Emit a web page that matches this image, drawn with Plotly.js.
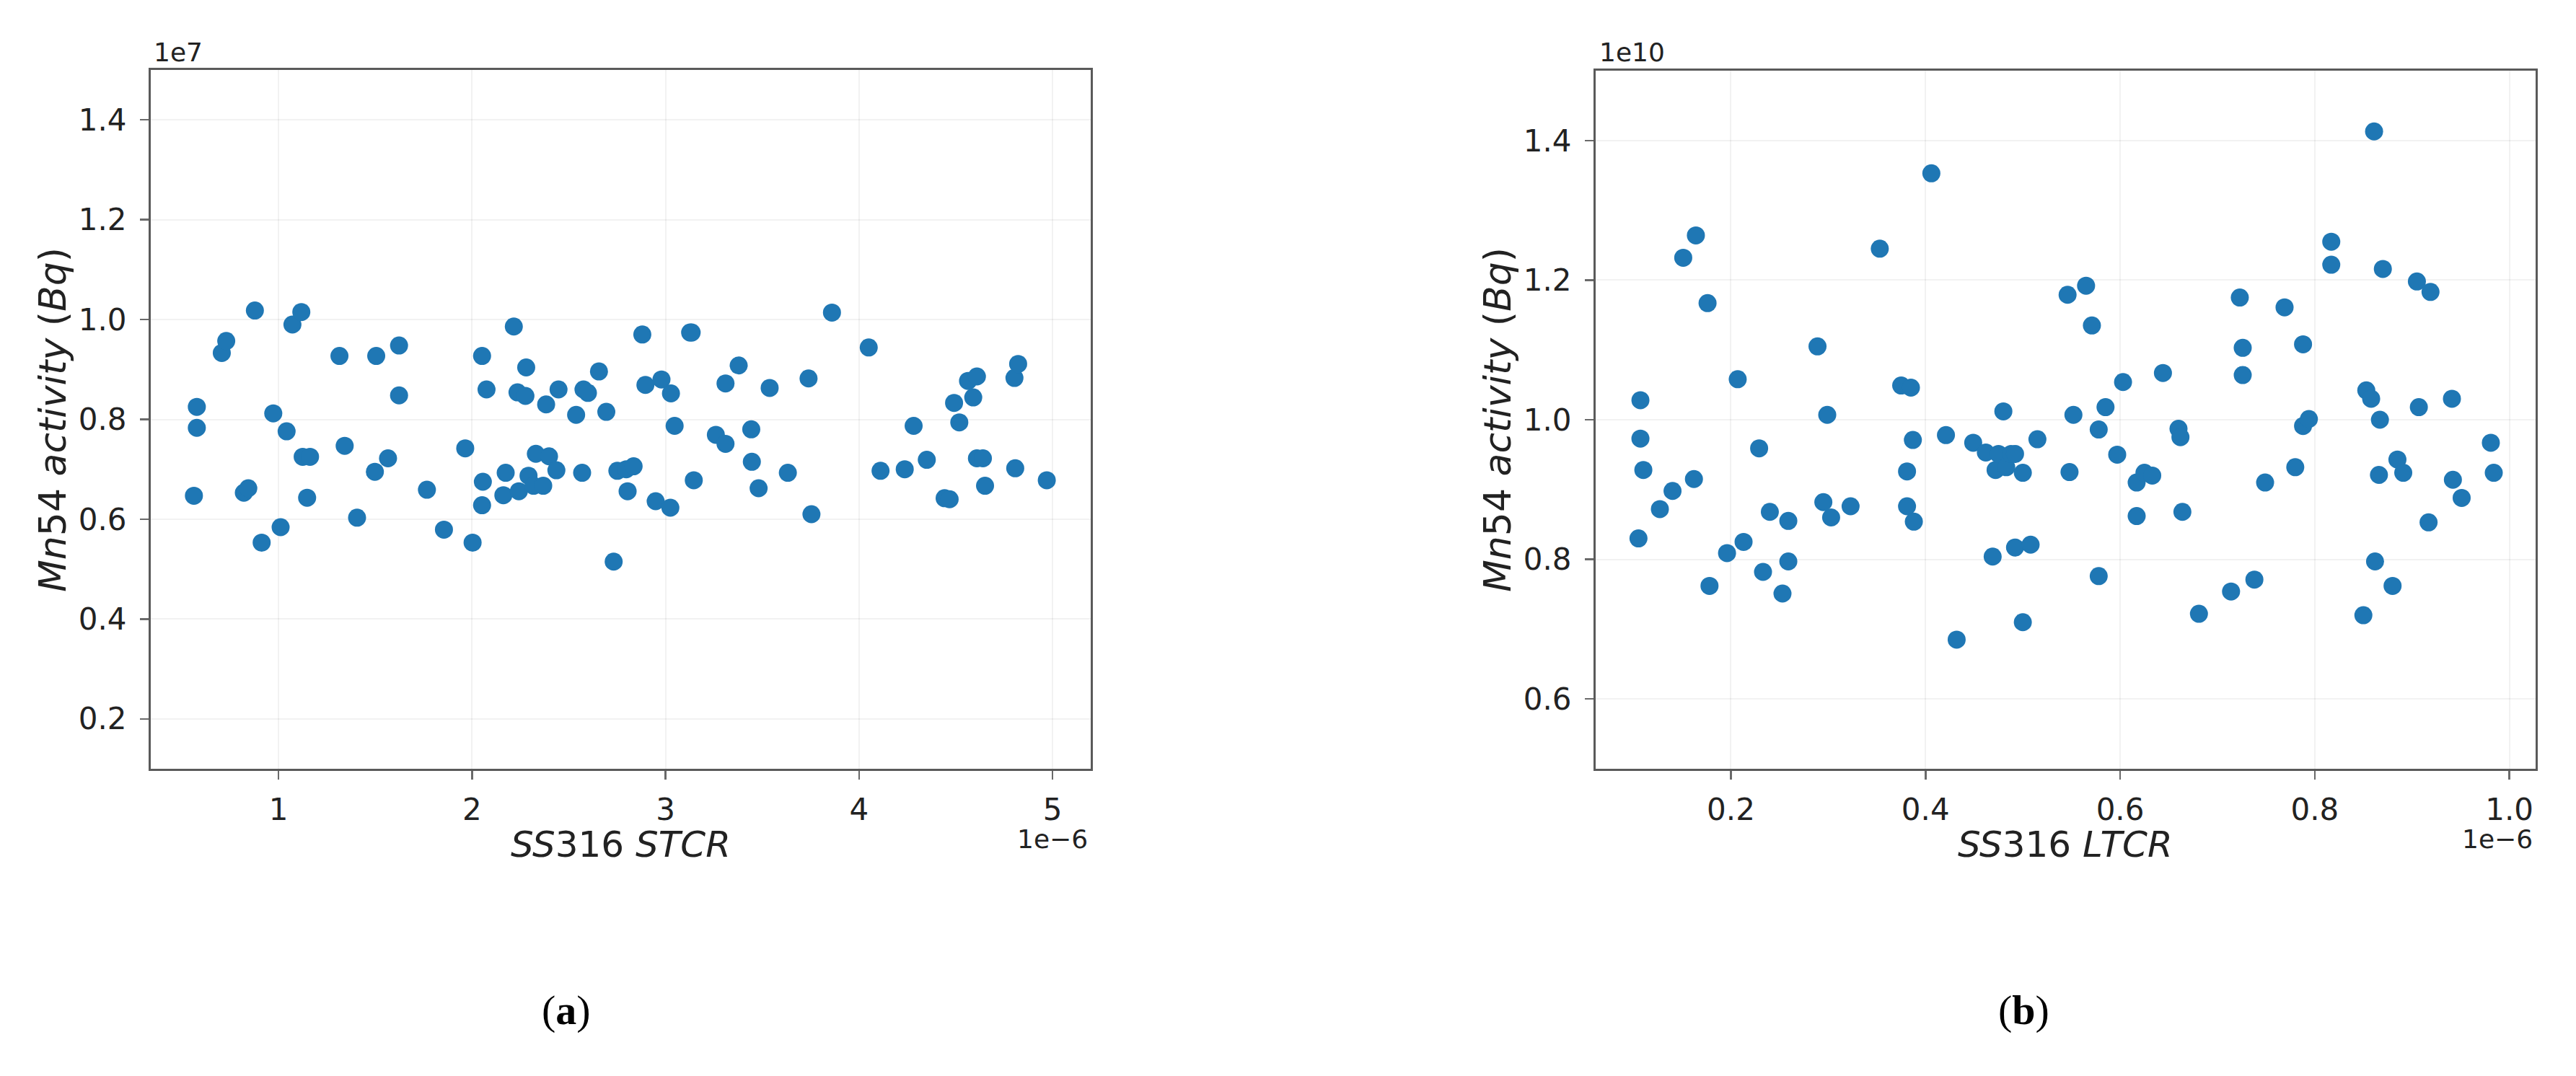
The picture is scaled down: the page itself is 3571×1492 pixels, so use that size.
<!DOCTYPE html>
<html>
<head>
<meta charset="utf-8">
<script src="https://cdn.plot.ly/plotly-3.0.1.min.js"></script>
<style>html,body{margin:0;padding:0;background:#fff;}#chart{width:3571px;height:1492px;}</style>
</head>
<body>
<div id="chart"></div>
<script>
// Panel (a): SS316 STCR (x, units of 1e-6) vs Mn54 activity (y, units of 1e7 Bq)
const stcrX = [0.563,0.578,0.578,0.707,0.730,0.821,0.844,0.878,0.913,0.973,1.011,1.042,1.072,1.118,1.125,1.163,1.148,1.315,1.342,1.406,
  1.498,1.505,1.566,1.623,1.623,1.767,1.855,1.965,2.003,2.052,2.056,2.052,2.075,2.174,2.162,2.216,2.235,2.242,2.276,2.280,
  2.292,2.318,2.330,2.368,2.383,2.398,2.436,2.447,2.538,2.569,2.576,2.599,2.656,2.694,2.732,2.751,2.797,2.835,2.804,2.880,
  2.896,2.949,2.979,3.025,3.028,3.047,3.127,3.146,3.260,3.310,3.310,3.378,3.443,3.446,3.481,3.538,3.632,3.739,3.754,3.860,
  4.050,4.111,4.236,4.282,4.350,4.442,4.468,4.491,4.518,4.563,4.590,4.609,4.609,4.640,4.651,4.803,4.822,4.807,4.970,3.135];
const stcrY = [0.647,0.825,0.783,0.933,0.957,0.653,0.662,1.018,0.553,0.812,0.584,0.776,0.990,1.015,0.725,0.725,0.643,0.927,0.747,0.603,
  0.695,0.927,0.722,0.948,0.848,0.659,0.579,0.742,0.553,0.927,0.675,0.628,0.860,0.693,0.648,0.986,0.854,0.656,0.847,0.904,
  0.687,0.667,0.731,0.667,0.830,0.726,0.698,0.860,0.809,0.693,0.860,0.853,0.896,0.815,0.515,0.697,0.700,0.706,0.656,0.970,
  0.869,0.636,0.880,0.623,0.852,0.787,0.974,0.678,0.769,0.751,0.872,0.908,0.780,0.715,0.662,0.863,0.693,0.882,0.610,1.014,
  0.944,0.697,0.700,0.787,0.719,0.642,0.640,0.833,0.794,0.877,0.844,0.886,0.722,0.722,0.667,0.883,0.911,0.702,0.678,0.974];

// Panel (b): SS316 LTCR (x, units of 1e-6) vs Mn54 activity (y, units of 1e10 Bq)
const ltcrX = [0.105,0.107,0.107,0.110,0.127,0.140,0.151,0.164,0.162,0.176,0.178,0.196,0.207,0.213,0.229,0.233,0.240,0.253,0.259,0.259,
  0.289,0.295,0.299,0.303,0.323,0.353,0.375,0.385,0.381,0.381,0.387,0.388,0.406,0.421,0.432,0.449,0.462,0.469,0.472,0.475,
  0.480,0.483,0.488,0.492,0.492,0.500,0.500,0.508,0.515,0.546,0.548,0.552,0.565,0.571,0.578,0.578,0.585,0.597,0.603,0.617,
  0.617,0.625,0.633,0.644,0.660,0.662,0.664,0.681,0.714,0.723,0.726,0.726,0.738,0.749,0.769,0.780,0.788,0.788,0.794,0.817,
  0.817,0.850,0.853,0.858,0.861,0.862,0.866,0.867,0.870,0.880,0.885,0.891,0.905,0.907,0.917,0.919,0.941,0.942,0.951,0.981,0.984];
const ltcrY = [0.830,1.028,0.973,0.928,0.872,0.898,1.232,1.264,0.915,1.167,0.762,0.809,1.058,0.825,0.959,0.782,0.868,0.751,0.855,0.797,
  1.105,0.882,1.007,0.860,0.876,1.245,1.049,1.046,0.926,0.876,0.971,0.854,1.353,0.978,0.685,0.967,0.953,0.804,0.928,0.951,
  1.012,0.932,0.951,0.817,0.951,0.924,0.710,0.821,0.972,1.179,0.925,1.007,1.192,1.135,0.986,0.776,1.018,0.950,1.054,0.910,
  0.862,0.924,0.920,1.067,0.987,0.975,0.868,0.722,0.754,1.175,1.103,1.064,0.771,0.910,1.161,0.932,1.108,0.991,1.001,1.255,
  1.222,0.720,1.042,1.030,1.413,0.797,0.921,1.000,1.216,0.762,0.943,0.924,1.198,1.018,0.853,1.183,1.030,0.914,0.888,0.967,0.924];

const xTicksA = [1,2,3,4,5];
const yTicksA = [0.2,0.4,0.6,0.8,1.0,1.2,1.4];
const xTicksB = [0.2,0.4,0.6,0.8,1.0];
const yTicksB = [0.6,0.8,1.0,1.2,1.4];

const W = 3571, H = 1492;
const px = v => v / W;
const py = v => 1 - v / H;

const markerStyle = {color: '#1f77b4', size: 25, line: {width: 0}};
const traces = [
  {x: stcrX, y: stcrY, type: 'scatter', mode: 'markers', marker: markerStyle, xaxis: 'x', yaxis: 'y', hoverinfo: 'skip'},
  {x: ltcrX, y: ltcrY, type: 'scatter', mode: 'markers', marker: markerStyle, xaxis: 'x2', yaxis: 'y2', hoverinfo: 'skip'}
];

const tickFont = {family: 'DejaVu Sans', size: 42, color: '#222'};
const axisCommon = {
  showline: true, mirror: true, linecolor: '#5a5a5a', linewidth: 3,
  ticks: 'outside', ticklen: 12, tickwidth: 2.5, tickcolor: '#6a6a6a',
  showgrid: true, gridcolor: 'rgba(0,0,0,0.05)', gridwidth: 2,
  zeroline: false, tickfont: tickFont, fixedrange: true
};

const layout = {
  width: W, height: H,
  margin: {l: 0, r: 0, t: 0, b: 0, pad: 0},
  paper_bgcolor: '#ffffff', plot_bgcolor: '#ffffff',
  showlegend: false,
  xaxis: Object.assign({}, axisCommon, {domain: [px(209), px(1512)], range: [0.340, 5.197], tickvals: xTicksA, ticktext: xTicksA.map(String), anchor: 'y', ticklabelstandoff: 6}),
  yaxis: Object.assign({}, axisCommon, {domain: [py(1066), py(97)], range: [0.1, 1.5], tickvals: yTicksA, ticktext: yTicksA.map(v => v.toFixed(1)), anchor: 'x', ticklabelstandoff: 10}),
  xaxis2: Object.assign({}, axisCommon, {domain: [px(2212), px(3515)], range: [0.061, 1.027], tickvals: xTicksB, ticktext: xTicksB.map(v => v.toFixed(1)), anchor: 'y2', ticklabelstandoff: 6}),
  yaxis2: Object.assign({}, axisCommon, {domain: [py(1066), py(98)], range: [0.5, 1.5], tickvals: yTicksB, ticktext: yTicksB.map(v => v.toFixed(1)), anchor: 'x2', ticklabelstandoff: 10}),
  annotations: [
    {text: '1e7', xref: 'paper', yref: 'paper', x: px(211), y: py(72), xanchor: 'left', yanchor: 'middle', showarrow: false, font: {family: 'DejaVu Sans', size: 36, color: '#222'}},
    {text: '1e\u22126', xref: 'paper', yref: 'paper', x: px(1510), y: py(1163), xanchor: 'right', yanchor: 'middle', showarrow: false, font: {family: 'DejaVu Sans', size: 36, color: '#222'}},
    {text: '1e10', xref: 'paper', yref: 'paper', x: px(2215), y: py(72), xanchor: 'left', yanchor: 'middle', showarrow: false, font: {family: 'DejaVu Sans', size: 36, color: '#222'}},
    {text: '1e\u22126', xref: 'paper', yref: 'paper', x: px(3513), y: py(1163), xanchor: 'right', yanchor: 'middle', showarrow: false, font: {family: 'DejaVu Sans', size: 36, color: '#222'}},
    {text: '<i>SS</i>316 <i>STCR</i>', xref: 'paper', yref: 'paper', x: px(860), y: py(1171), xanchor: 'center', yanchor: 'middle', showarrow: false, font: {family: 'DejaVu Sans', size: 50, color: '#222'}},
    {text: '<i>SS</i>316 <i>LTCR</i>', xref: 'paper', yref: 'paper', x: px(2863), y: py(1171), xanchor: 'center', yanchor: 'middle', showarrow: false, font: {family: 'DejaVu Sans', size: 50, color: '#222'}},
    {text: '<i>Mn</i>54 <i>activity</i> (<i>Bq</i>)', xref: 'paper', yref: 'paper', x: px(73), y: py(582), xanchor: 'center', yanchor: 'middle', textangle: -90, showarrow: false, font: {family: 'DejaVu Sans', size: 52, color: '#222'}},
    {text: '<i>Mn</i>54 <i>activity</i> (<i>Bq</i>)', xref: 'paper', yref: 'paper', x: px(2076), y: py(582), xanchor: 'center', yanchor: 'middle', textangle: -90, showarrow: false, font: {family: 'DejaVu Sans', size: 52, color: '#222'}},
    {text: '(<b>a</b>)', xref: 'paper', yref: 'paper', x: px(785), y: py(1400), xanchor: 'center', yanchor: 'middle', showarrow: false, font: {family: 'Liberation Serif', size: 58, color: '#000'}},
    {text: '(<b>b</b>)', xref: 'paper', yref: 'paper', x: px(2805), y: py(1400), xanchor: 'center', yanchor: 'middle', showarrow: false, font: {family: 'Liberation Serif', size: 58, color: '#000'}}
  ]
};

Plotly.newPlot('chart', traces, layout, {displayModeBar: false, staticPlot: true});
</script>
</body>
</html>
